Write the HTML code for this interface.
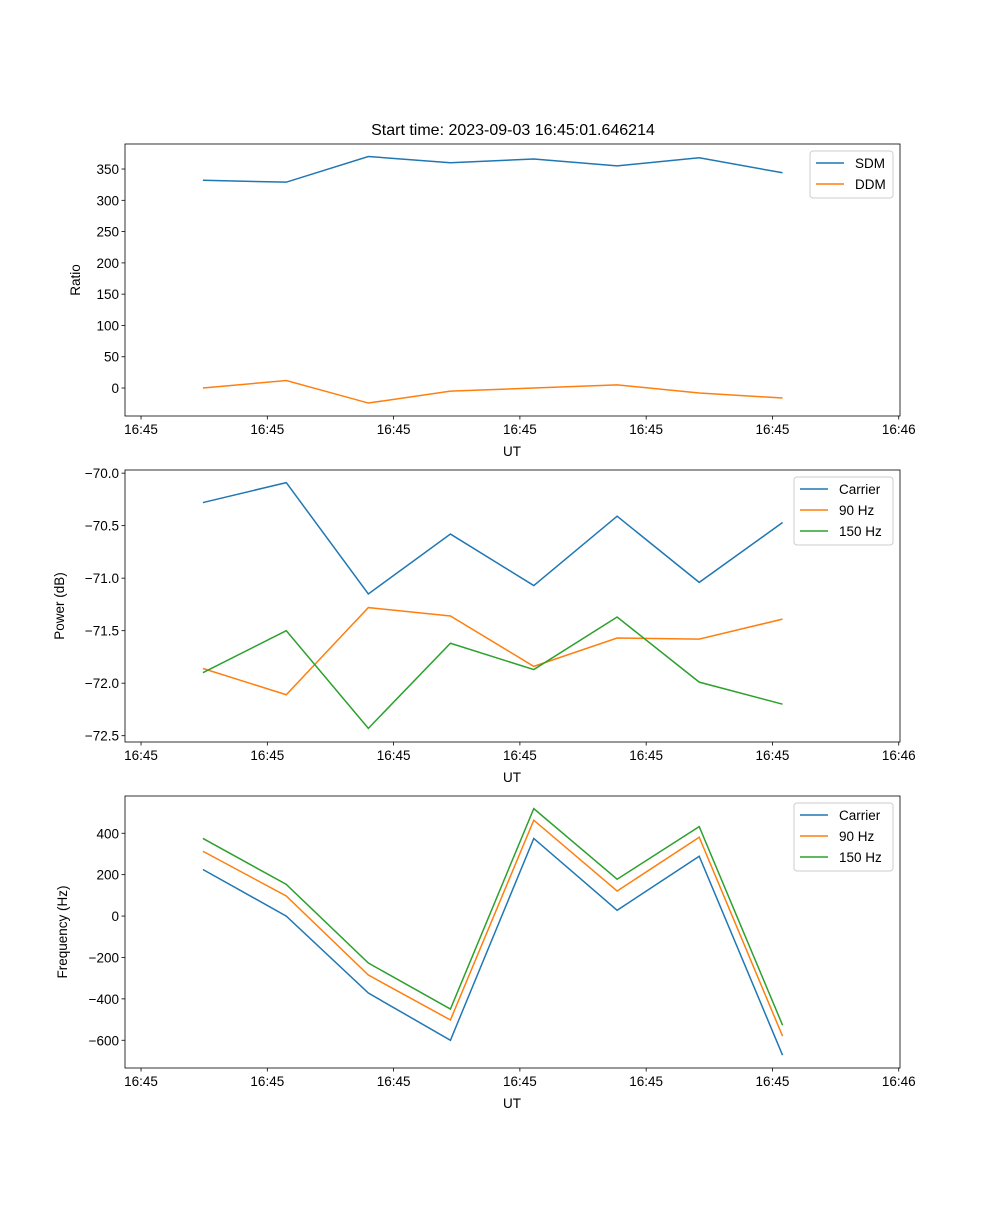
<!DOCTYPE html>
<html><head><meta charset="utf-8"><style>
body{margin:0;background:#fff;}
svg text{font-family:"Liberation Sans","DejaVu Sans",sans-serif;font-size:13.5px;fill:#000;}
</style></head><body>
<svg id="fig" width="1000" height="1200" xmlns="http://www.w3.org/2000/svg">
<text x="513" y="135" text-anchor="middle" style="font-size:16px">Start time: 2023-09-03 16:45:01.646214</text>
</svg>
<script>
const times=[4.9,11.5,18.0,24.5,31.1,37.7,44.2,50.8];
const xTicks=[0,10,20,30,40,50,60];
const xTickLabels=["16:45","16:45","16:45","16:45","16:45","16:45","16:46"];
const sdm=[332,329,370,360,366,355,368,344];
const ddm=[0,12,-24,-5,0,5,-8,-16];
const pCarrier=[-70.28,-70.09,-71.15,-70.58,-71.07,-70.41,-71.04,-70.47];
const p90=[-71.86,-72.11,-71.28,-71.36,-71.84,-71.57,-71.58,-71.39];
const p150=[-71.90,-71.50,-72.43,-71.62,-71.87,-71.37,-71.99,-72.20];
const fCarrier=[225,0,-372,-600,375,28,289,-672];
const f90=[313,97,-285,-502,463,121,381,-580];
const f150=[375,153,-227,-449,519,178,432,-527];
const ratioTicks=[0,50,100,150,200,250,300,350];
const powerTicks=[-72.5,-72.0,-71.5,-71.0,-70.5,-70.0];
const freqTicks=[-600,-400,-200,0,200,400];

const NS="http://www.w3.org/2000/svg";
const svg=document.getElementById('fig');
function mk(tag,attrs,parent){const e=document.createElementNS(NS,tag);for(const k in attrs)e.setAttribute(k,attrs[k]);(parent||svg).appendChild(e);return e;}
const L=125,R=900;
const xs=t=>L+(t+1.27)/(61.37)*(R-L);
const C=['#1f77b4','#ff7f0e','#2ca02c'];

function panel(top,yMin,yMax,yTicks,fmt,ylabel,series,names,legW,name){
  const bot=top+272;
  const g=mk('g',{});
  
  
  const ys=v=>bot-(v-yMin)/(yMax-yMin)*272;
  series.forEach((s,i)=>{
    const p=mk('polyline',{points:s.map((v,j)=>xs(times[j])+','+ys(v)).join(' '),fill:'none',stroke:C[i],'stroke-width':1.5},g);
    
    
  });
  mk('rect',{x:L,y:top,width:R-L,height:272,fill:'none',stroke:'#000','stroke-width':0.8},g);
  xTicks.forEach((t,i)=>{const x=xs(t);mk('line',{x1:x,x2:x,y1:bot,y2:bot+3.5,stroke:'#000','stroke-width':0.8},g);
    const tx=mk('text',{x:x,y:bot+18,'text-anchor':'middle'},g);tx.textContent=xTickLabels[i];
    
    });
  const xl=mk('text',{x:512,y:bot+40,'text-anchor':'middle'},g);xl.textContent='UT';
  
  
  yTicks.forEach(v=>{const y=ys(v);mk('line',{x1:L-3.5,x2:L,y1:y,y2:y,stroke:'#000','stroke-width':0.8},g);
    const tx=mk('text',{x:L-6,y:y+5,'text-anchor':'end'},g);tx.textContent=fmt(v);
    
    });
  const yl=mk('text',{x:0,y:0,'text-anchor':'middle',transform:`translate(${name==='ratio-panel'?80:name==='power-panel'?64:67},${top+136}) rotate(-90)`},g);yl.textContent=ylabel;
  
  
  const lx=R-7-legW, ly=top+7, lh=names.length*21+5;
  const lg=mk('g',{},g);
  
  
  mk('rect',{x:lx,y:ly,width:legW,height:lh,fill:'#fff',stroke:'#ccc',rx:3},lg);
  names.forEach((n,i)=>{const yy=ly+12+i*21;
    mk('line',{x1:lx+6,x2:lx+34,y1:yy,y2:yy,stroke:C[i],'stroke-width':1.5},lg);
    const tx=mk('text',{x:lx+45,y:yy+5},lg);tx.textContent=n;
    
    });
}
panel(144,-44.7,390,ratioTicks,v=>String(v),'Ratio',[sdm,ddm],['SDM','DDM'],83,'ratio-panel');
panel(470,-72.56,-69.97,powerTicks,v=>(v<0?'\u2212':'')+Math.abs(v).toFixed(1),'Power (dB)',[pCarrier,p90,p150],['Carrier','90 Hz','150 Hz'],99,'power-panel');
panel(796,-734,580,freqTicks,v=>(v<0?'\u2212':'')+Math.abs(v),'Frequency (Hz)',[fCarrier,f90,f150],['Carrier','90 Hz','150 Hz'],99,'frequency-panel');
</script>
</body></html>
